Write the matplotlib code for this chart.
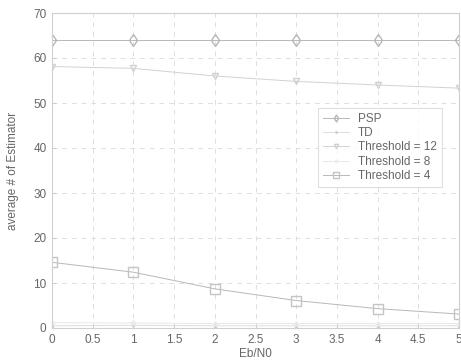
import numpy as np
import matplotlib
matplotlib.use("Agg")
import matplotlib.pyplot as plt

plt.rcParams['font.family'] = ['Liberation Sans', 'DejaVu Sans']

ebn0 = [0, 1, 2, 3, 4, 5]
psp = [64, 64, 64, 64, 64, 64]
td = [0.5, 0.6, 0.5, 0.5, 0.5, 0.5]
thr12 = [58.1, 57.7, 56.0, 54.8, 54.0, 53.3]
thr8 = [1.2, 1.1, 1.0, 1.0, 1.0, 1.0]
thr4 = [14.6, 12.4, 8.7, 6.1, 4.3, 3.1]

line_c = '#b8b8b8'
text_c = '#666666'

fig = plt.figure(figsize=(4.61, 3.63), dpi=100)
ax = fig.add_axes([52 / 461, 1 - 328 / 363, 407 / 461, 315 / 363])

ax.plot(ebn0, psp, color=line_c, lw=0.7, marker='d', ms=6, mfc='none', mec=line_c, label='PSP')
ax.plot(ebn0, td, color='#dddddd', lw=0.7, marker='.', ms=3, mec='#c8c8c8', label='TD')
ax.plot(ebn0, thr12, color='#d2d2d2', lw=0.7, marker='v', ms=5, mfc='none', mec='#d0d0d0', label='Threshold = 12')
ax.plot(ebn0, thr8, color='#e8e8e8', lw=0.7, marker='*', ms=4, mfc='none', mec='#ebebeb', label='Threshold = 8')
ax.plot(ebn0, thr4, color=line_c, lw=0.7, marker='s', ms=7, mfc='none', mec='#c4c4c4', label='Threshold = 4')

ax.set_xlim(0, 5)
ax.set_ylim(0, 70)
ax.set_xticks(np.arange(0, 5.01, 0.5))
ax.set_xticklabels(['0', '0.5', '1', '1.5', '2', '2.5', '3', '3.5', '4', '4.5', '5'])
ax.set_yticks(np.arange(0, 71, 10))
ax.tick_params(direction='in', length=3, colors='#cccccc', labelcolor=text_c, labelsize=8.5, pad=4)
ax.grid(True, color='#dedede', linestyle=(0, (5, 5)), lw=0.7)
for s in ax.spines.values():
    s.set_color('#d0d0d0')
    s.set_linewidth(0.8)

ax.set_xlabel('Eb/N0', color=text_c, fontsize=8.5, labelpad=2)
ax.set_ylabel('average # of Estimator', color=text_c, fontsize=8.5, labelpad=10)

leg = ax.legend(loc='upper left', bbox_to_anchor=(318 / 461, 1 - 108 / 363),
                bbox_transform=fig.transFigure, fontsize=8.5, frameon=True,
                fancybox=False, handlelength=2.2, handletextpad=0.8,
                labelspacing=0.2, borderpad=0.4, borderaxespad=0, markerscale=0.6)
leg.get_frame().set_edgecolor('#d8d8d8')
leg.get_frame().set_linewidth(0.8)
for t in leg.get_texts():
    t.set_color(text_c)

fig.savefig('out.png', dpi=100)
